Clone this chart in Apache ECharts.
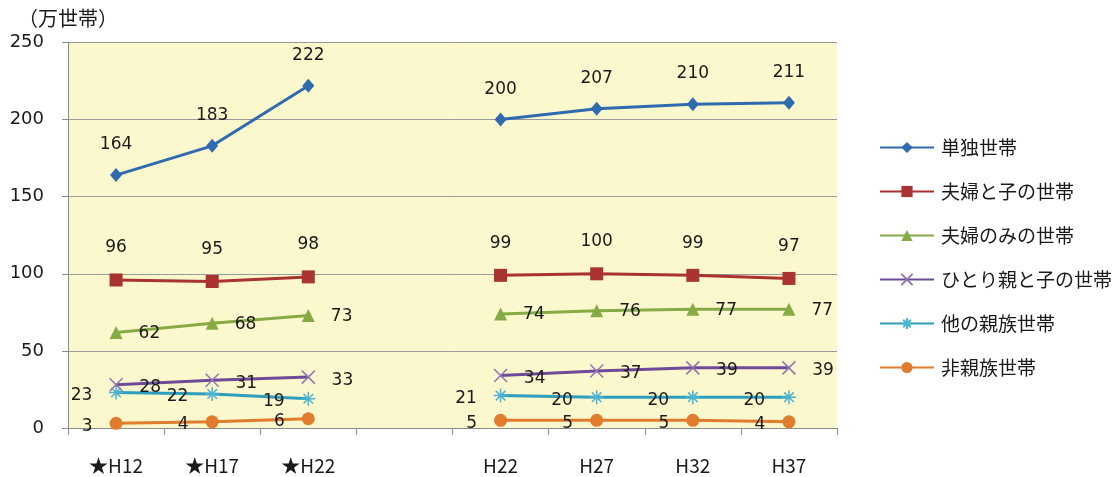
<!DOCTYPE html>
<html>
<head>
<meta charset="utf-8">
<script src="https://cdn.jsdelivr.net/npm/echarts@6/dist/echarts.min.js"></script>
<style>
html,body{margin:0;padding:0;background:#fff;}
#c{width:1116px;height:477px;}
</style>
</head>
<body>
<div id="c"></div>
<script>
var categories = ['★H12', '★H17', '★H22', '', 'H22', 'H27', 'H32', 'H37'];
var seriesNames = ['単独世帯', '夫婦と子の世帯', '夫婦のみの世帯', 'ひとり親と子の世帯', '他の親族世帯', '非親族世帯'];
var tanDoku = [164, 183, 222, '-', 200, 207, 210, 211];
var fufuKo = [96, 95, 98, '-', 99, 100, 99, 97];
var fufuNomi = [62, 68, 73, '-', 74, 76, 77, 77];
var hitoriOya = [28, 31, 33, '-', 34, 37, 39, 39];
var taShinzoku = [23, 22, 19, '-', 21, 20, 20, 20];
var hiShinzoku = [3, 4, 6, '-', 5, 5, 5, 4];
var yTicks = [0, 50, 100, 150, 200, 250];

var numFont = 'DejaVu Sans';
var jpFont = '"Noto Sans CJK JP", "Noto Sans CJK SC", sans-serif';

function lbl(pos, dist, off) {
  return {show: true, position: pos, distance: dist, offset: off || [0, 0],
    color: '#1a1a1a', fontSize: 17, fontFamily: numFont};
}

var crossPath = 'path://M0 0L10 10M10 0L0 10';
var starPath = 'path://M5 0L5 10M0 5L10 5M1.6 1.6L8.4 8.4M8.4 1.6L1.6 8.4';

var defs = [
  {data: tanDoku, color: '#2F6BAE', symbol: 'diamond', size: [12, 14], label: lbl('top', 15)},
  {data: fufuKo, color: '#A83331', symbol: 'rect', size: 13, label: lbl('top', 17)},
  {data: fufuNomi, color: '#86AB44', symbol: 'triangle', size: 13, label: lbl('right', 16, [0, 1])},
  {data: hitoriOya, color: '#6E4A98', symbol: crossPath, size: 13, stroke: '#8C76B0', label: lbl('right', 16, [0, 3])},
  {data: taShinzoku, color: '#2E9EBE', symbol: starPath, size: 14, stroke: '#4BB4D2', label: lbl('left', 16, [0, 3])},
  {data: hiShinzoku, color: '#E07C2C', symbol: 'circle', size: 13, label: lbl('left', 17, [0, 3])}
];

var series = defs.map(function (d, i) {
  var s = {
    name: seriesNames[i], type: 'line', data: d.data,
    symbol: d.symbol, symbolSize: d.size, connectNulls: false,
    lineStyle: {color: d.color, width: 3},
    label: d.label, z: 10 - i
  };
  if (d.stroke) {
    s.itemStyle = {color: d.stroke, borderColor: d.stroke, borderWidth: 1.5};
  } else {
    s.itemStyle = {color: d.color};
  }
  return s;
});

var chart = echarts.init(document.getElementById('c'));
chart.setOption({
  animation: false,
  backgroundColor: '#ffffff',
  grid: {left: 68, right: 279, top: 42.5, bottom: 49, show: true, backgroundColor: '#FCF8CE', borderWidth: 0},
  legend: {
    orient: 'vertical', left: 874, top: 133, itemWidth: 54, itemHeight: 14, itemGap: 25,
    textStyle: {fontSize: 19, fontFamily: jpFont, color: '#1a1a1a', padding: [0, 0, 0, 2]},
    data: seriesNames.map(function (n) { return {name: n}; })
  },
  xAxis: {
    type: 'category', data: categories, boundaryGap: true,
    axisLine: {show: true, lineStyle: {color: '#8c8c8c', width: 1}},
    axisTick: {show: true, interval: 0, length: 7, lineStyle: {color: '#8c8c8c'}},
    axisLabel: {interval: 0, margin: 28, fontSize: 19, fontFamily: jpFont, color: '#1a1a1a'}
  },
  yAxis: {
    type: 'value', min: yTicks[0], max: yTicks[yTicks.length - 1], interval: 50,
    name: '（万世帯）', nameLocation: 'end', nameGap: 14,
    nameTextStyle: {fontSize: 20, fontFamily: jpFont, color: '#1a1a1a', align: 'center', padding: [0, 0, 0, 0]},
    axisLine: {show: true, lineStyle: {color: '#8c8c8c', width: 1}},
    axisTick: {show: true, inside: false, length: 6, lineStyle: {color: '#8c8c8c'}},
    axisLabel: {fontSize: 18, fontFamily: numFont, color: '#1a1a1a', margin: 24},
    splitLine: {show: true, lineStyle: {color: '#9a9a9a', width: 1}}
  },
  series: series
});
</script>
</body>
</html>
